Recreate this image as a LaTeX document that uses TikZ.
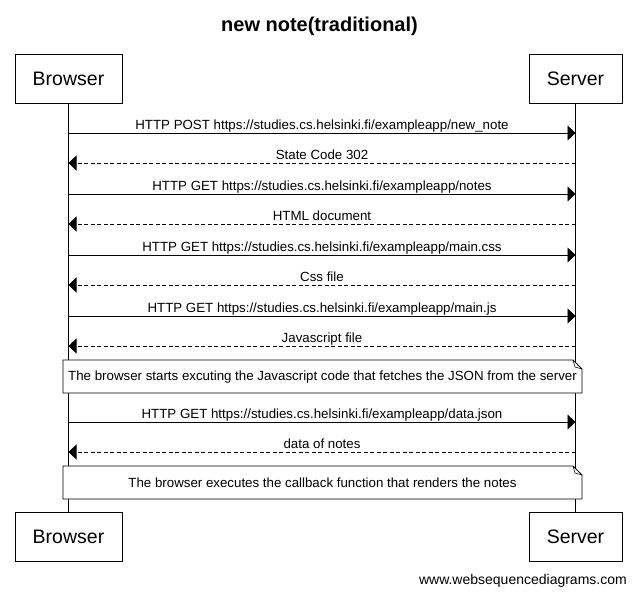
\documentclass[tikz,border=0pt]{standalone}
\usepackage{fontspec}
\setmainfont{Liberation Sans}
\usetikzlibrary{arrows.meta}
\begin{document}
\begin{tikzpicture}[x=1pt,y=-1pt,
  actor/.style={draw,line width=0.8pt,minimum width=#1,minimum height=49pt,inner sep=0pt,font=\fontsize{19.5}{22}\selectfont},
  lifeline/.style={line width=0.8pt},
  msg/.style={line width=0.8pt,-{Triangle[length=8pt,width=15pt]}},
  ret/.style={msg,dash pattern=on 4pt off 2.5pt},
  lbl/.style={font=\fontsize{13.3}{15}\selectfont,inner sep=0pt,anchor=base,yshift=3.5pt},
  notetxt/.style={font=\fontsize{13.3}{15}\selectfont,inner sep=0pt}]
\useasboundingbox (0,0) rectangle (637,595);
\fill[white] (0,0) rectangle (637,595);
\node[font=\bfseries\fontsize{20}{23}\selectfont,anchor=base,inner sep=0pt] (title) at (319.5,31) {new note(traditional)};
\node[actor=107pt] (bt) at (68.5,78.5) {Browser};
\node[actor=93pt] (st) at (575.5,78.5) {Server};
\node[actor=107pt] (bb) at (68.5,536.5) {Browser};
\node[actor=93pt] (sb) at (575.5,536.5) {Server};
\draw[lifeline] (bt.south) -- (bb.north);
\draw[lifeline] (st.south) -- (sb.north);
% message coordinates
\foreach \n/\y in {1/133,2/163,3/194,4/224,5/255,6/285,7/316,8/346,9/422,10/452}{
  \coordinate (b\n) at (68.5,\y);
  \coordinate (s\n) at (575.5,\y);
}
\draw[msg] (b1) -- node[lbl] (m1) {HTTP POST https://studies.cs.helsinki.fi/exampleapp/new\_note} (s1);
\draw[ret] (s2) -- node[lbl] (m2) {State Code 302} (b2);
\draw[msg] (b3) -- node[lbl] (m3) {HTTP GET https://studies.cs.helsinki.fi/exampleapp/notes} (s3);
\draw[ret] (s4) -- node[lbl] (m4) {HTML document} (b4);
\draw[msg] (b5) -- node[lbl] (m5) {HTTP GET https://studies.cs.helsinki.fi/exampleapp/main.css} (s5);
\draw[ret] (s6) -- node[lbl] (m6) {Css file} (b6);
\draw[msg] (b7) -- node[lbl] (m7) {HTTP GET https://studies.cs.helsinki.fi/exampleapp/main.js} (s7);
\draw[ret] (s8) -- node[lbl] (m8) {Javascript file} (b8);
\draw[msg] (b9) -- node[lbl] (m9) {HTTP GET https://studies.cs.helsinki.fi/exampleapp/data.json} (s9);
\draw[ret] (s10) -- node[lbl] (m10) {data of notes} (b10);
% notes
\foreach \t/\bt in {360/393,466/499}{
  \fill[white] (63,\t) -- (573,\t) -- (582,\t+9) -- (582,\bt) -- (63,\bt) -- cycle;
  \draw[line width=0.8pt] (63,\t) -- (573,\t) -- (582,\t+9) -- (582,\bt) -- (63,\bt) -- cycle;
  \draw[line width=0.6pt] (573,\t) -- (575,\t+7) -- (582,\t+9);
}
\node[notetxt] (n1) at (322.5,377) {The browser starts excuting the Javascript code that fetches the JSON from the server};
\node[notetxt] (n2) at (322.5,482.5) {The browser executes the callback function that renders the notes};
\node[font=\fontsize{14}{16}\selectfont,anchor=east,inner sep=0pt] (wm) at (627,581) {www.websequencediagrams.com};
\end{tikzpicture}
\end{document}
